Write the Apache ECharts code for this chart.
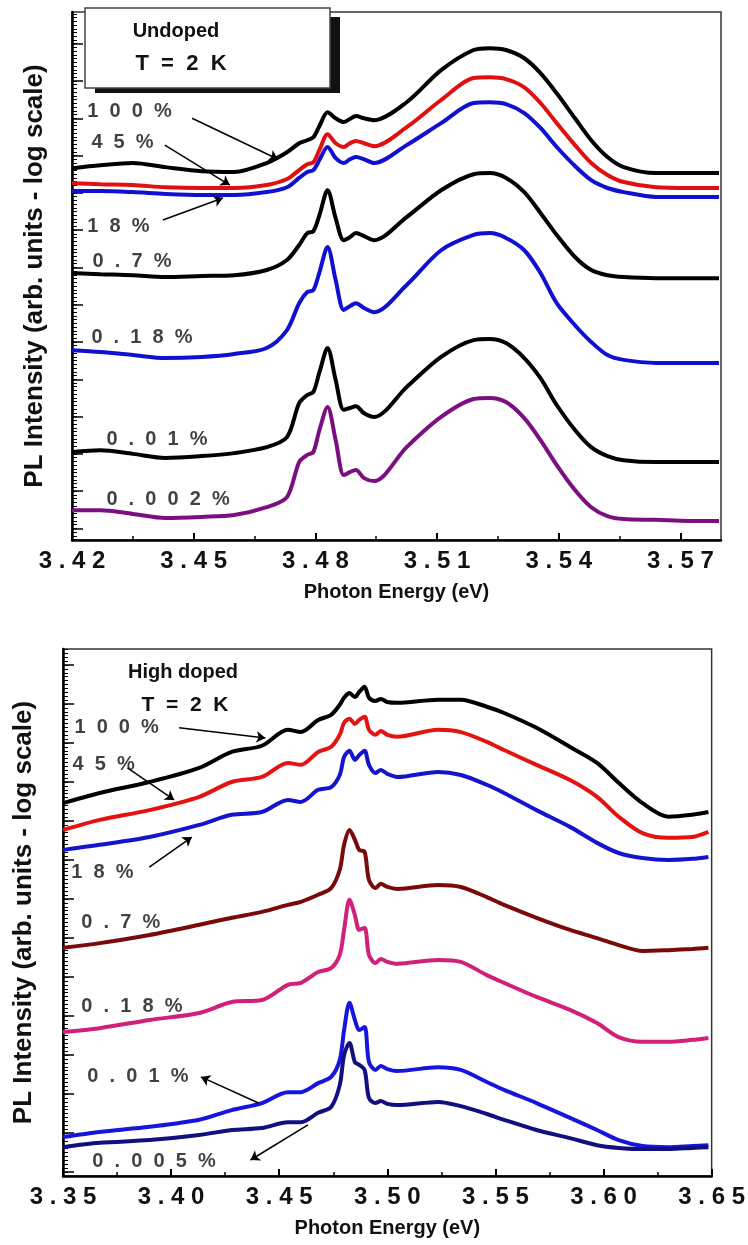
<!DOCTYPE html>
<html lang="en">
<head>
<meta charset="UTF-8">
<title>PL spectra</title>
<style>
  html,body{margin:0;padding:0;background:#fff;}
  #mychart{width:748px;height:1245px;}
</style>
</head>
<body>
<div id="mychart"></div>
<script src="https://cdn.jsdelivr.net/npm/echarts@6/dist/echarts.min.js"></script>
<script>
// ---- top panel : undoped, T = 2 K ----
// photon energy (eV) where every curve was read
var topEnergy=[3.420,3.427,3.435,3.443,3.452,3.460,3.468,3.473,3.476,3.478,3.4795,3.481,3.483,3.485,3.487,3.4885,3.490,3.492,3.4945,3.5025,3.511,3.519,3.523,3.527,3.5315,3.5355,3.5395,3.544,3.548,3.552,3.556,3.564,3.572,3.5795]
// log intensity, shifted (1 unit = 1 major tick)
var top100=[9.97,10.05,10.11,10.00,9.89,9.87,10.11,10.40,10.64,10.72,10.80,11.10,11.47,11.31,11.21,11.29,11.37,11.31,11.26,11.74,12.60,13.14,13.19,13.14,12.92,12.52,11.98,11.31,10.72,10.27,10.00,9.84,9.84,9.84]
var top45=[9.57,9.54,9.52,9.46,9.44,9.44,9.52,9.68,9.92,10.08,10.13,10.46,10.88,10.64,10.54,10.64,10.70,10.64,10.56,11.07,11.80,12.39,12.41,12.36,12.14,11.72,11.18,10.59,10.11,9.79,9.60,9.46,9.44,9.44]
var top18=[9.36,9.36,9.33,9.28,9.25,9.25,9.33,9.46,9.71,9.87,9.92,10.19,10.54,10.24,10.11,10.21,10.27,10.21,10.11,10.59,11.18,11.72,11.74,11.69,11.45,11.05,10.54,10.03,9.65,9.44,9.33,9.20,9.20,9.20]
var top07=[7.16,7.13,7.10,7.05,7.08,7.10,7.24,7.51,7.91,8.23,8.28,8.71,9.38,8.63,8.04,8.12,8.23,8.15,8.04,8.66,9.38,9.81,9.84,9.71,9.33,8.77,8.18,7.59,7.24,7.10,7.05,7.02,7.02,7.02]
var top018=[5.09,5.04,4.96,4.88,4.91,4.99,5.15,5.63,6.35,6.65,6.70,7.18,7.86,6.97,6.17,6.27,6.35,6.22,6.11,6.84,7.77,8.18,8.23,8.10,7.77,7.16,6.35,5.76,5.31,4.96,4.83,4.75,4.75,4.75]
var top001=[2.36,2.41,2.31,2.20,2.25,2.33,2.49,2.76,3.67,3.89,3.97,4.50,5.15,4.29,3.49,3.54,3.59,3.40,3.30,4.10,4.91,5.36,5.39,5.28,4.88,4.34,3.62,2.95,2.49,2.25,2.14,2.09,2.09,2.09]
var top0002=[0.80,0.80,0.70,0.59,0.62,0.67,0.88,1.15,2.09,2.28,2.36,2.95,3.57,2.68,1.74,1.82,1.88,1.66,1.58,2.49,3.30,3.78,3.81,3.70,3.27,2.68,2.01,1.34,0.88,0.64,0.56,0.54,0.51,0.51]
var topNames=['100%','45%','18%','0.7%','0.18%','0.01%','0.002%']
var topColors=['#000000','#e01010','#1010d0','#000000','#1010d0','#000000','#7b0f80']
// where the percent labels start (left edge), in data units
var topLabelPos=[[3.4239,11.47],[3.4249,10.64],[3.4239,8.39],[3.4252,7.45],[3.4249,5.42],[3.4286,2.68],[3.4286,1.07]]
// arrows [tail, head]
var topArrows=[[[3.4496,11.31],[3.4708,10.21]],[[3.4429,10.59],[3.4589,9.52]],[[3.4424,8.58],[3.4572,9.17]]]
var topTicks=[3.42,3.45,3.48,3.51,3.54,3.57]
var topMinorTicks=[3.435,3.465,3.495,3.525,3.555]

// ---- bottom panel : high doped, T = 2 K ----
var botEnergy=[3.350,3.367,3.390,3.413,3.428,3.442,3.454,3.460,3.468,3.474,3.478,3.480,3.4825,3.485,3.487,3.4895,3.4915,3.4945,3.497,3.500,3.5045,3.5235,3.534,3.546,3.554,3.569,3.5845,3.597,3.607,3.618,3.630,3.641,3.6485]
var bot100=[9.56,9.82,10.10,10.46,10.87,11.03,11.44,11.38,11.69,11.82,12.08,12.26,12.38,12.28,12.41,12.54,12.26,12.18,12.23,12.15,12.13,12.21,12.21,12.03,11.87,11.49,11.00,10.59,10.08,9.56,9.21,9.26,9.33]
var bot45=[8.87,9.13,9.38,9.72,10.10,10.23,10.59,10.54,10.87,11.00,11.31,11.62,11.72,11.59,11.69,11.77,11.44,11.31,11.41,11.31,11.26,11.44,11.38,11.13,10.92,10.54,10.15,9.72,9.21,8.79,8.67,8.69,8.82]
var bot18=[8.36,8.49,8.69,9.00,9.26,9.33,9.64,9.59,9.90,9.97,10.28,10.74,10.90,10.67,10.79,10.90,10.54,10.33,10.41,10.31,10.23,10.36,10.28,10.03,9.82,9.38,8.95,8.54,8.28,8.15,8.10,8.13,8.18]
var bot07=[5.85,5.97,6.18,6.44,6.62,6.77,6.95,7.03,7.21,7.38,7.85,8.49,8.87,8.62,8.36,8.31,7.59,7.38,7.49,7.41,7.36,7.46,7.41,7.15,6.95,6.62,6.31,6.10,5.92,5.77,5.79,5.82,5.85]
var bot018=[3.69,3.79,4.00,4.18,4.46,4.51,4.90,4.95,5.23,5.33,5.67,6.31,7.08,6.69,6.31,6.36,5.67,5.46,5.56,5.49,5.44,5.54,5.49,5.15,4.95,4.59,4.26,3.92,3.56,3.44,3.44,3.49,3.54]
var bot001=[1.00,1.13,1.26,1.44,1.69,1.87,2.15,2.15,2.38,2.54,2.97,3.74,4.44,4.00,3.74,3.82,2.92,2.72,2.82,2.74,2.69,2.79,2.72,2.41,2.21,1.87,1.49,1.18,0.92,0.77,0.74,0.77,0.79]
var bot0005=[0.74,0.85,0.92,1.05,1.18,1.23,1.38,1.38,1.62,1.77,2.33,3.10,3.41,2.92,2.85,2.72,2.00,1.87,1.92,1.85,1.82,1.90,1.79,1.59,1.44,1.18,0.97,0.79,0.72,0.69,0.69,0.72,0.74]
var botNames=['100%','45%','18%','0.7%','0.18%','0.01%','0.005%']
var botColors=['#000000','#e51212','#1414cc','#7a0a0a','#d0207a','#1515dd','#101080']
var botLabelPos=[[3.3555,11.49],[3.3546,10.54],[3.3541,7.77],[3.3587,6.49],[3.3587,4.33],[3.3615,2.54],[3.3638,0.36]]
var botArrows=[[[3.4037,11.49],[3.4436,11.23]],[[3.3798,10.46],[3.4014,9.64]],[[3.3899,7.92],[3.4096,8.69]],[[3.4404,1.87],[3.4138,2.54]],[[3.4633,1.31],[3.4367,0.41]]]
var botTicks=[3.35,3.40,3.45,3.50,3.55,3.60,3.65]
var botMinorTicks=[3.375,3.425,3.475,3.525,3.575,3.625]

var FONT='"Liberation Sans", Arial, sans-serif'

function tickRange(start,step,max){
    var out=[]
    for(var v=start;v<=max+1e-9;v+=step){out.push(+v.toFixed(3))}
    return out
}
function spaced(s,gap){return s.split('').join(gap)}

var myChart=echarts.init(document.getElementById('mychart'))

function xAxes(gi,min,max,ticks,minor){
    return [{
        gridIndex:gi,type:'value',position:'bottom',min:min,max:max,
        axisLine:{lineStyle:{color:'#000',width:2.5}},
        axisTick:{inside:true,length:7,customValues:ticks,lineStyle:{color:'#000',width:2}},
        axisLabel:{customValues:ticks,margin:9,color:'#111',fontSize:24,fontWeight:'bold',fontFamily:FONT,
            formatter:function(v){return spaced(v.toFixed(2),' ')}},
        splitLine:{show:false},
        name:'Photon Energy (eV)',nameLocation:'middle',nameGap:42,
        nameTextStyle:{fontSize:20,fontWeight:'bold',fontFamily:FONT,color:'#111'}
    },{
        gridIndex:gi,type:'value',position:'bottom',min:min,max:max,
        axisLine:{show:false},
        axisTick:{inside:true,length:4,customValues:minor,lineStyle:{color:'#000',width:1.5}},
        axisLabel:{show:false},splitLine:{show:false}
    }]
}
function yAxes(gi,max,major,gap){
    return [{
        gridIndex:gi,type:'value',position:'left',min:0,max:max,
        axisLine:{lineStyle:{color:'#000',width:2.5}},
        axisTick:{inside:true,length:11,customValues:tickRange(major,1,max),lineStyle:{color:'#000',width:1.5}},
        axisLabel:{show:false},splitLine:{show:false},
        name:'PL Intensity (arb. units - log scale)',nameLocation:'middle',nameGap:gap,
        nameTextStyle:{fontSize:26,fontWeight:'bold',fontFamily:FONT,color:'#111'}
    },{
        gridIndex:gi,type:'value',position:'left',min:0,max:max,
        axisLine:{show:false},
        axisTick:{inside:true,length:5,customValues:tickRange(+(major%0.1).toFixed(2),0.1,max),lineStyle:{color:'#000',width:1}},
        axisLabel:{show:false},splitLine:{show:false}
    }]
}

function curves(gi,energy,list,colors){
    return list.map(function(vals,i){
        return {
            type:'line',xAxisIndex:gi*2,yAxisIndex:gi*2,silent:true,
            data:energy.map(function(e,k){return [e,vals[k]]}),
            showSymbol:false,smooth:0.3,
            lineStyle:{color:colors[i],width:4},z:3
        }
    })
}
function notes(gi,names,pos,arrows){
    return {
        type:'scatter',xAxisIndex:gi*2,yAxisIndex:gi*2,silent:true,z:5,
        symbolSize:1,itemStyle:{color:'rgba(0,0,0,0)'},
        data:names.map(function(n,i){return [pos[i][0],pos[i][1],n]}),
        label:{show:true,position:[0,0],align:'left',verticalAlign:'middle',
            color:'#111',fontSize:20,fontWeight:'bold',fontFamily:FONT,
            formatter:function(p){return spaced(p.data[2],'  ')}},
        markLine:{silent:true,symbol:['none','arrow'],symbolSize:9,
            lineStyle:{color:'#000',width:1.5,type:'solid'},label:{show:false},
            data:arrows.map(function(a){return [{coord:a[0]},{coord:a[1]}]})}
    }
}

var option={
    animation:false,
    backgroundColor:'#fff',
    grid:[
        {left:72,top:12,width:649,height:528,show:true,borderColor:'#333',borderWidth:1.5},
        {left:63,top:649,width:652,height:527,show:true,borderColor:'#333',borderWidth:1.5}
    ],
    xAxis:xAxes(0,3.42,3.58,topTicks,topMinorTicks).concat(xAxes(1,3.35,3.65,botTicks,botMinorTicks)),
    yAxis:yAxes(0,14.16,0.31,24).concat(yAxes(1,13.51,0.10,26)),
    graphic:[
        {type:'rect',z:100,shape:{x:95,y:17,width:245,height:76},style:{fill:'#111'}},
        {type:'rect',z:101,shape:{x:85,y:8,width:245,height:80},style:{fill:'#fff',stroke:'#444',lineWidth:1.5}},
        {type:'text',z:102,x:176,y:31,style:{text:'Undoped',fontSize:20,fontWeight:'bold',fontFamily:FONT,fill:'#111',align:'center',verticalAlign:'middle'}},
        {type:'text',z:102,x:181,y:64,style:{text:'T  =  2  K',fontSize:22,fontWeight:'bold',fontFamily:FONT,fill:'#111',align:'center',verticalAlign:'middle'}},
        {type:'text',z:102,x:183,y:672,style:{text:'High doped',fontSize:20,fontWeight:'bold',fontFamily:FONT,fill:'#111',align:'center',verticalAlign:'middle'}},
        {type:'text',z:102,x:185,y:705,style:{text:'T  =  2  K',fontSize:21,fontWeight:'bold',fontFamily:FONT,fill:'#111',align:'center',verticalAlign:'middle'}}
    ],
    series:[].concat(
        curves(0,topEnergy,[top100,top45,top18,top07,top018,top001,top0002],topColors),
        [notes(0,topNames,topLabelPos,topArrows)],
        curves(1,botEnergy,[bot100,bot45,bot18,bot07,bot018,bot001,bot0005],botColors),
        [notes(1,botNames,botLabelPos,botArrows)]
    )
}
myChart.setOption(option)
</script>
</body>
</html>
